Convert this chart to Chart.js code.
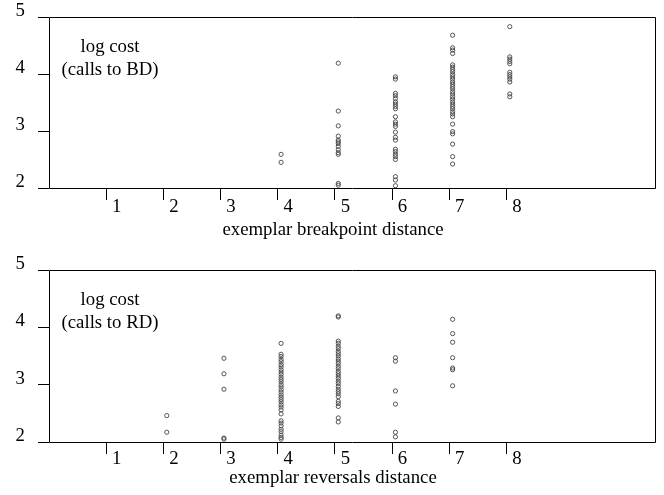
<!DOCTYPE html>
<html><head><meta charset="utf-8">
<script src="https://cdn.jsdelivr.net/npm/chart.js@4/dist/chart.umd.min.js"></script>
<style>
html,body{margin:0;padding:0;background:#fff;}
#wrap{position:relative;width:664px;height:495px;}
.panel{position:absolute;left:0;width:664px;}
</style></head><body>
<div id="wrap">
<div class="panel" style="top:0;height:248px"><canvas id="c1"></canvas></div>
<div class="panel" style="top:248px;height:247px"><canvas id="c2"></canvas></div>
</div>
<script>
// ---- data ----
const xTicks = [1, 2, 3, 4, 5, 6, 7, 8];
const yTicks = [2, 3, 4, 5];

// top panel: log cost (calls to BD) by exemplar breakpoint distance
const bdDistances = [4, 5, 6, 7, 8];
const bdCost4 = [2.59, 2.45];
const bdCost5 = [4.19, 3.35, 3.09, 2.91, 2.84, 2.81, 2.78, 2.73, 2.67, 2.62, 2.59, 2.08, 2.05];
const bdCost6 = [3.95, 3.91, 3.66, 3.62, 3.57, 3.51, 3.47, 3.43, 3.39, 3.25, 3.16, 3.12, 3.08, 2.98, 2.89, 2.84, 2.68, 2.64, 2.59, 2.55, 2.50, 2.20, 2.14, 2.04];
const bdCost7 = [4.68, 4.46, 4.42, 4.36, 4.16, 4.12, 4.08, 4.04, 3.99, 3.95, 3.91, 3.86, 3.82, 3.78, 3.74, 3.69, 3.65, 3.60, 3.56, 3.51, 3.47, 3.43, 3.39, 3.34, 3.30, 3.25, 3.12, 2.99, 2.95, 2.77, 2.55, 2.42];
const bdCost8 = [4.83, 4.30, 4.26, 4.22, 4.18, 4.03, 3.99, 3.95, 3.91, 3.86, 3.65, 3.60];

// bottom panel: log cost (calls to RD) by exemplar reversals distance
const rdDistances = [2, 3, 4, 5, 6, 7];
const rdCost2 = [2.46, 2.17];
const rdCost3 = [3.46, 3.19, 2.92, 2.07, 2.05];
const rdCost4 = [3.72, 3.53, 3.49, 3.44, 3.40, 3.35, 3.31, 3.26, 3.22, 3.18, 3.13, 3.09, 3.05, 3.00, 2.96, 2.91, 2.87, 2.82, 2.78, 2.74, 2.70, 2.65, 2.61, 2.56, 2.49, 2.37, 2.33, 2.28, 2.22, 2.18, 2.12, 2.08, 2.05];
const rdCost5 = [4.20, 4.18, 3.76, 3.72, 3.67, 3.63, 3.58, 3.54, 3.50, 3.45, 3.41, 3.37, 3.32, 3.28, 3.23, 3.19, 3.15, 3.11, 3.06, 3.02, 2.97, 2.92, 2.88, 2.84, 2.79, 2.71, 2.67, 2.62, 2.42, 2.35];
const rdCost6 = [3.47, 3.41, 2.89, 2.66, 2.17, 2.09];
const rdCost7 = [4.14, 3.89, 3.74, 3.47, 3.29, 3.26, 2.98];

const bdTitle = 'exemplar breakpoint distance';
const rdTitle = 'exemplar reversals distance';
const bdLabel = ['log cost', '(calls to BD)'];
const rdLabel = ['log cost', '(calls to RD)'];

// ---- build ----
const FONT = '"Liberation Serif", "Times New Roman", serif';
const FSIZE = 18.8;

function toPoints(distances, costLists) {
  const pts = [];
  distances.forEach((d, i) => costLists[i].forEach(c => pts.push({ x: d, y: c })));
  return pts;
}

function crisp(v) { return Math.floor(v) + 0.5; }

function noPad(s) { s.paddingTop = 0; s.paddingBottom = 0; s.paddingLeft = 0; s.paddingRight = 0; }

const framePlugin = {
  id: 'frameAndText',
  afterDraw(chart, args, opts) {
    const ca = chart.chartArea;
    const ctx = chart.ctx;
    ctx.save();
    ctx.strokeStyle = '#000';
    ctx.lineWidth = 1;
    ctx.beginPath();
    ctx.rect(crisp(ca.left), crisp(ca.top), Math.round(ca.right) - Math.round(ca.left), Math.round(ca.bottom) - Math.round(ca.top));
    ctx.stroke();
    ctx.fillStyle = '#000';
    ctx.font = FSIZE + 'px ' + FONT;
    ctx.textAlign = 'center';
    ctx.textBaseline = 'alphabetic';
    ctx.fillText(opts.label[0], ca.left + 61, ca.top + 35);
    ctx.fillText(opts.label[1], ca.left + 61, ca.top + 58);
    ctx.fillText(opts.title, chart.width / 2 + 1, ca.bottom + opts.titleGap);
    ctx.restore();
  }
};

function makeChart(id, points, label, title, topPad, xAxisHeight, titleGap, xLabelPad) {
  return new Chart(document.getElementById(id), {
    type: 'scatter',
    data: {
      datasets: [{
        data: points,
        xAxisID: 'xd',
        pointStyle: 'circle',
        pointRadius: 2.1,
        pointBorderWidth: 0.9,
        pointBorderColor: '#444',
        pointBackgroundColor: 'rgba(0,0,0,0)',
        showLine: false
      }]
    },
    options: {
      responsive: true,
      maintainAspectRatio: false,
      animation: false,
      devicePixelRatio: 1,
      layout: { padding: { left: 0, right: 9, top: topPad, bottom: 0 } },
      plugins: {
        legend: { display: false },
        tooltip: { enabled: false },
        frameAndText: { label: label, title: title, titleGap: titleGap }
      },
      scales: {
        x: {
          type: 'linear', position: 'bottom', min: 0, max: 10.6,
          afterBuildTicks: s => { s.ticks = xTicks.map(v => ({ value: v })); },
          afterFit: s => { s.height = xAxisHeight; noPad(s); },
          grid: { drawOnChartArea: false, drawTicks: true, tickLength: 12, color: '#000', lineWidth: 1 },
          border: { display: false },
          ticks: { color: '#000', font: { family: FONT, size: FSIZE }, padding: xLabelPad, labelOffset: 10.5, autoSkip: false, maxRotation: 0 }
        },
        xd: {
          type: 'linear', position: 'bottom', display: false, min: -0.06, max: 10.54
        },
        y: {
          type: 'linear', position: 'left', min: 2, max: 5,
          afterBuildTicks: s => { s.ticks = yTicks.map(v => ({ value: v })); },
          afterFit: s => { s.width = 49; noPad(s); },
          grid: { drawOnChartArea: false, drawTicks: true, tickLength: 11, color: '#000', lineWidth: 1 },
          border: { display: false },
          ticks: { color: '#000', font: { family: FONT, size: FSIZE }, padding: 13, labelOffset: -6 }
        }
      }
    },
    plugins: [framePlugin]
  });
}

makeChart('c1', toPoints(bdDistances, [bdCost4, bdCost5, bdCost6, bdCost7, bdCost8]), bdLabel, bdTitle, 17, 60, 47, -4);
makeChart('c2', toPoints(rdDistances, [rdCost2, rdCost3, rdCost4, rdCost5, rdCost6, rdCost7]), rdLabel, rdTitle, 22, 53, 41, -6);
</script>
</body></html>
